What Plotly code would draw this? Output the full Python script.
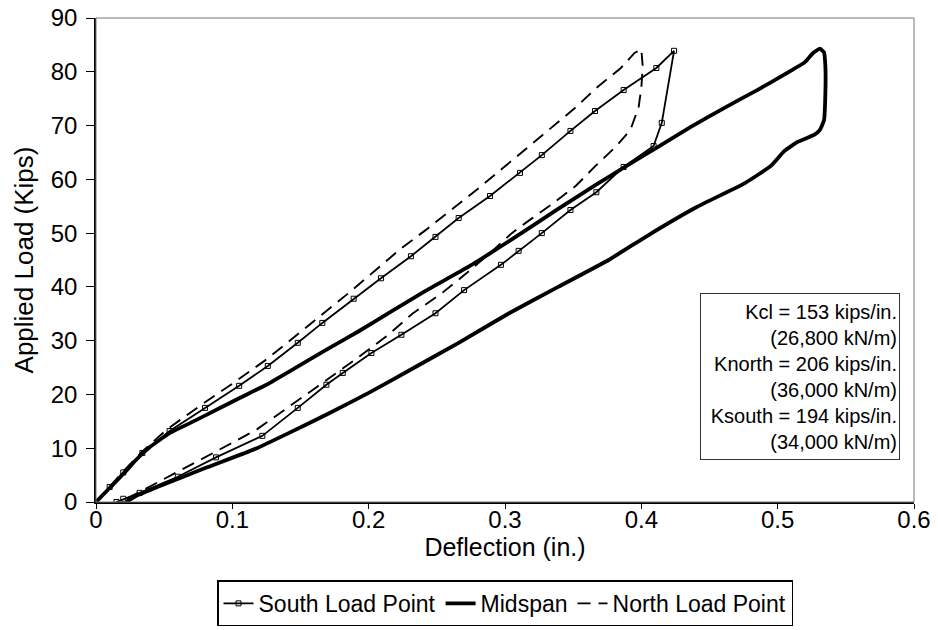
import plotly.graph_objects as go

# ---- data (deflection in., load kips) ----
south_x = [0, 0.01, 0.02, 0.034, 0.054, 0.080, 0.105, 0.126, 0.148, 0.166, 0.189, 0.209, 0.231, 0.249,
           0.266, 0.289, 0.311, 0.327, 0.348, 0.366, 0.387, 0.411, 0.424,
           0.415, 0.409, 0.387, 0.367, 0.348, 0.327, 0.310, 0.297, 0.270, 0.249, 0.224, 0.202, 0.181,
           0.169, 0.148, 0.122, 0.088, 0.060, 0.032, 0.020, 0.015]
south_y = [0, 2.8, 5.5, 9.1, 13.2, 17.5, 21.6, 25.3, 29.6, 33.3, 37.8, 41.6, 45.7, 49.3,
           52.8, 56.9, 61.2, 64.5, 69.0, 72.7, 76.6, 80.7, 83.9,
           70.5, 66.2, 62.3, 57.6, 54.3, 50.0, 46.7, 44.1, 39.4, 35.1, 31.1, 27.7, 24.0,
           21.8, 17.5, 12.3, 8.3, 4.7, 1.7, 0.6, 0]

mid_x = [0, 0.01, 0.02, 0.03, 0.04, 0.054, 0.07, 0.081, 0.105, 0.125, 0.142, 0.171, 0.193, 0.217,
         0.242, 0.273, 0.303, 0.339, 0.368, 0.388, 0.412, 0.436, 0.461, 0.485, 0.507, 0.520, 0.526,
         0.531, 0.534, 0.535, 0.535, 0.534, 0.531, 0.527, 0.515, 0.505, 0.495, 0.476, 0.441, 0.405,
         0.376, 0.339, 0.303, 0.266, 0.230, 0.200, 0.171, 0.142, 0.118, 0.081, 0.045, 0.030, 0.022]
mid_y = [0, 2.6, 5.2, 8.0, 10.3, 12.8, 14.8, 16.2, 19.3, 21.8, 24.3, 28.6, 31.8, 35.5,
         39.3, 43.7, 48.5, 54.5, 59.2, 62.3, 66.0, 69.7, 73.3, 76.6, 79.8, 81.8, 83.5,
         84.3, 83.6, 81.0, 76.0, 71.0, 69.2, 68.3, 67.0, 65.3, 62.5, 59.3, 54.9, 49.6,
         45.0, 40.0, 35.1, 29.6, 24.5, 20.3, 16.5, 12.9, 10.0, 6.4, 2.8, 1.2, 0]

north_x = [0, 0.01, 0.02, 0.034, 0.052, 0.078, 0.100, 0.125, 0.146, 0.166, 0.186, 0.205, 0.224,
           0.242, 0.259, 0.279, 0.298, 0.312, 0.332, 0.352, 0.367, 0.385, 0.395, 0.400,
           0.401, 0.400, 0.398, 0.392, 0.381, 0.366, 0.352, 0.335, 0.319, 0.305, 0.290, 0.273,
           0.254, 0.232, 0.213, 0.193, 0.162, 0.135, 0.118, 0.100, 0.076, 0.052, 0.034, 0.018]
north_y = [0, 2.9, 5.7, 9.4, 13.5, 18.2, 22.0, 26.5, 30.8, 34.8, 39.0, 43.1, 47.2,
           50.6, 54.0, 58.0, 62.0, 65.0, 69.2, 73.4, 77.0, 80.7, 83.5, 84.2,
           81.0, 77.0, 73.4, 69.2, 66.0, 62.4, 58.8, 55.5, 52.6, 50.0, 46.5, 42.8,
           38.9, 35.0, 30.8, 27.0, 21.4, 16.5, 13.5, 11.0, 7.8, 4.5, 2.2, 0]

x_ticks = [0, 0.1, 0.2, 0.3, 0.4, 0.5, 0.6]
x_tick_text = ["0", "0.1", "0.2", "0.3", "0.4", "0.5", "0.6"]
y_ticks = [0, 10, 20, 30, 40, 50, 60, 70, 80, 90]

stiffness_lines = ["Kcl = 153 kips/in.", "(26,800 kN/m)",
                   "Knorth = 206 kips/in.", "(36,000 kN/m)",
                   "Ksouth = 194 kips/in.", "(34,000 kN/m)"]

FONT = "Arial, 'Liberation Sans', Helvetica, sans-serif"

fig = go.Figure()
fig.add_trace(go.Scatter(
    x=south_x, y=south_y, name="South Load Point", mode="lines+markers",
    line=dict(color="black", width=1.8),
    marker=dict(symbol="square-open", size=5, color="black", line=dict(width=1, color="black"))))
fig.add_trace(go.Scatter(
    x=mid_x, y=mid_y, name="Midspan", mode="lines",
    line=dict(color="black", width=3.8, shape="spline", smoothing=0.4)))
fig.add_trace(go.Scatter(
    x=north_x, y=north_y, name="North Load Point", mode="lines",
    line=dict(color="black", width=1.9, dash="13px,8px")))

fig.add_annotation(
    xref="paper", yref="paper", x=(900 - 96) / 818, y=(502 - 293) / 484,
    xanchor="right", yanchor="top", align="right", valign="middle",
    text="<br>".join(stiffness_lines), showarrow=False,
    font=dict(family=FONT, size=20, color="black"),
    bordercolor="#333", borderwidth=1, borderpad=2, bgcolor="white",
    width=194, height=161)

fig.add_shape(type="rect", xref="paper", yref="paper", x0=0, x1=1, y0=0, y1=1,
              line=dict(color="#777", width=1))

fig.update_layout(
    width=938, height=630,
    margin=dict(l=96, r=24, t=18, b=128, autoexpand=False),
    paper_bgcolor="white", plot_bgcolor="white",
    font=dict(family=FONT, size=24, color="black"),
    showlegend=True,
    legend=dict(orientation="h", x=0.5, xanchor="center", y=-0.162, yanchor="top",
                bordercolor="black", borderwidth=1.5, font=dict(size=23),
                itemwidth=30, tracegroupgap=0),
    xaxis=dict(range=[0, 0.6], tickvals=x_ticks, ticktext=x_tick_text, automargin=False,
               showgrid=False, zeroline=False, showline=True, linecolor="black", linewidth=1.5,
               ticks="outside", ticklen=5, tickcolor="black", ticklabelstandoff=-10,
               title=dict(text="Deflection (in.)", font=dict(size=25), standoff=0)),
    yaxis=dict(range=[0, 90], tickvals=y_ticks, automargin=False,
               showgrid=False, zeroline=False, showline=True, linecolor="black", linewidth=1.5,
               ticks="outside", ticklen=8, tickcolor="black", ticklabelstandoff=4,
               title=dict(text="Applied Load (Kips)", font=dict(size=26), standoff=10)),
)

fig.write_html("out.html", config={"displayModeBar": False},
               post_script="document.body.style.margin='0';document.body.style.overflow='hidden';")
